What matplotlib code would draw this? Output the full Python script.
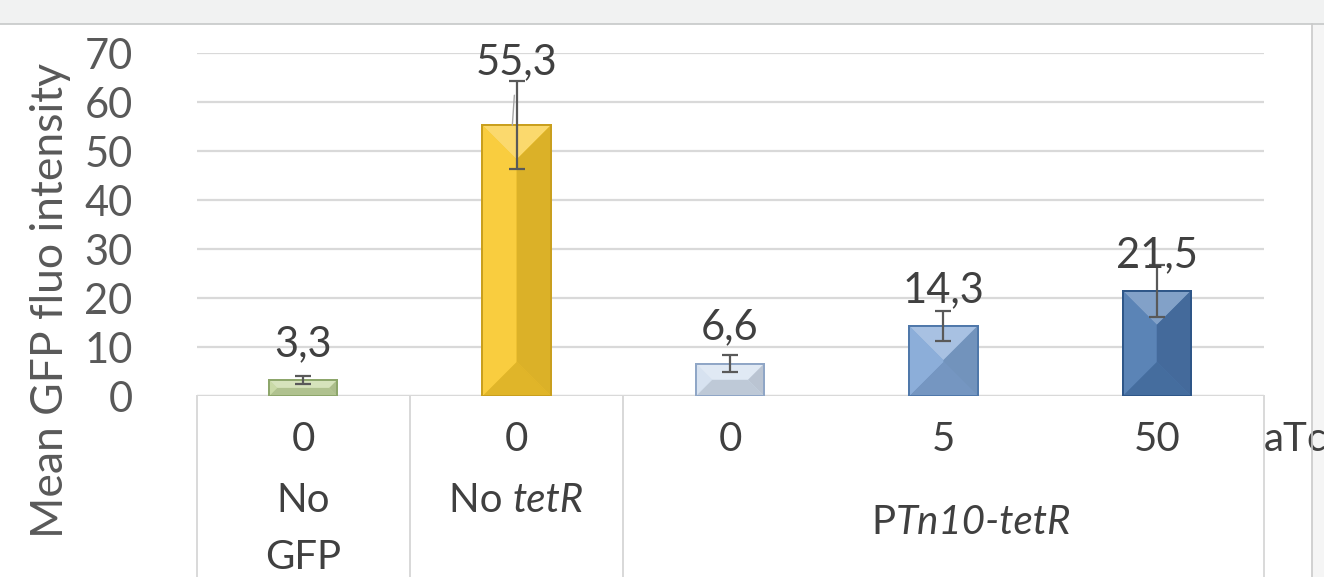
"""
Mean GFP fluo intensity per strain / aTc dose (Excel-style bevelled bars)
"""

import matplotlib

matplotlib.use("Agg")
import matplotlib.pyplot as plt
from matplotlib.patches import Polygon, Rectangle
from matplotlib.colors import to_rgb
import numpy as np

plt.rcParams["font.family"] = ["Lato", "DejaVu Sans"]

# ── Data ───────────────────────────────────────────────
doses = ["0", "0", "0", "5", "50"]
values = [3.3, 55.3, 6.6, 14.3, 21.5]
errors = [0.75, 9.0, 1.75, 3.0, 5.3]
value_labels = ["3,3", "55,3", "6,6", "14,3", "21,5"]
# group labels as (text, italic) pieces
groups = [
    [("No", False)],
    [("No ", False), ("tetR", True)],
    [("P", False), ("Tn10-tetR", True)],
]
group_spans = [(0, 0), (1, 1), (2, 4)]

# ── Theme ──────────────────────────────────────────────
face_colors = ["#C4D79F", "#F9C92E", "#D3DFEF", "#82A7D6", "#4D79B0"]
edge_colors = ["#8DA66B", "#C99F1E", "#8FA6C6", "#4F78AA", "#2E5688"]
TICK_GRAY = "#595959"
LABEL_DARK = "#404040"
GRID = "#D9D9D9"

W, H = 1324, 577
fig = plt.figure(figsize=(W / 100, H / 100), dpi=100)
fig.patch.set_facecolor("white")

# slide chrome: top band and right margin
fig.add_artist(Rectangle((0, 1 - 24 / H), 1, 24 / H, transform=fig.transFigure,
                         facecolor="#F1F2F2", edgecolor="none", zorder=0))
fig.add_artist(plt.Line2D([0, 1], [1 - 24 / H] * 2, transform=fig.transFigure,
                          color="#C6C8C8", lw=1.2))
fig.add_artist(Rectangle((1312 / W, 0), 1, 1 - 24 / H, transform=fig.transFigure,
                         facecolor="#F5F5F5", edgecolor="none", zorder=0))
fig.add_artist(plt.Line2D([1312 / W] * 2, [0, 1 - 24 / H], transform=fig.transFigure,
                          color="#CACACA", lw=1.2))

ax = fig.add_axes([196.5 / W, 1 - 396 / H, (1263.5 - 196.5) / W, (396 - 53.3) / H])
ax.set_facecolor("none")
n = len(values)
x = np.arange(n)
ax.set_xlim(-0.5, n - 0.5)
ax.set_ylim(0, 70)
ax.set_yticks(range(0, 71, 10))
ax.yaxis.grid(True, color=GRID, lw=1.6)
ax.set_axisbelow(True)
for s in ax.spines.values():
    s.set_visible(False)
ax.tick_params(axis="y", length=0, labelsize=30, labelcolor=TICK_GRAY, pad=46)
ax.set_xticks([])

ax.set_ylabel("Mean GFP fluo intensity", fontsize=32, color=TICK_GRAY)
ax.yaxis.set_label_coords(-0.118, 0.28)

# px per data unit for the bevel
px_x = ax.transData.transform((1, 0))[0] - ax.transData.transform((0, 0))[0]
px_y = ax.transData.transform((0, 1))[1] - ax.transData.transform((0, 0))[1]


def shade(c, f):
    r = np.array(to_rgb(c))
    return tuple(np.clip(r + (1 - r) * f, 0, 1)) if f > 0 else tuple(r * (1 + f))


width = 0.32
bars = ax.bar(x, values, width=width, color=face_colors, edgecolor=edge_colors,
              linewidth=1.4, zorder=3)
for b, fc in zip(bars, face_colors):
    x0, y0 = b.get_x(), 0
    x1, y1 = x0 + b.get_width(), b.get_height()
    d_px = min(b.get_width() * px_x, b.get_height() * px_y) / 2
    dx, dy = d_px / px_x, d_px / px_y
    parts = [
        ([(x0, y1), (x1, y1), (x1 - dx, y1 - dy), (x0 + dx, y1 - dy)], 0.30),
        ([(x0, y0), (x1, y0), (x1 - dx, y0 + dy), (x0 + dx, y0 + dy)], -0.10),
        ([(x0, y0), (x0, y1), (x0 + dx, y1 - dy), (x0 + dx, y0 + dy)], 0.08),
        ([(x1, y0), (x1, y1), (x1 - dx, y1 - dy), (x1 - dx, y0 + dy)], -0.12),
    ]
    for pts, f in parts:
        ax.add_patch(Polygon(pts, closed=True, facecolor=shade(fc, f),
                             edgecolor="none", zorder=3.5))
    ax.add_patch(Rectangle((x0, y0), x1 - x0, y1 - y0, facecolor="none",
                           edgecolor=b.get_edgecolor(), lw=1.4, zorder=3.8))

ax.errorbar(x, values, yerr=errors, fmt="none", ecolor="#595959", elinewidth=1.6,
            capsize=6, capthick=1.6, zorder=4)

# value labels
for i, (v, e, t) in enumerate(zip(values, errors, value_labels)):
    if i == 1:
        ax.annotate(t, (x[i] - 0.02, v), xytext=(x[i], v + 10.4), ha="center",
                    va="baseline", fontsize=30, color=LABEL_DARK, zorder=5,
                    arrowprops=dict(arrowstyle="-", color="#A6A6A6", lw=1.0,
                                    shrinkA=8, shrinkB=0))
    else:
        ax.text(x[i], v + 4.9, t, ha="center", va="baseline",
                fontsize=30, color=LABEL_DARK, zorder=5)

# category axis: baseline and divider lines
ax.axhline(0, color=GRID, lw=1.6, zorder=2)
trans = ax.get_xaxis_transform()
for lo, hi in group_spans:
    for xv in (lo - 0.5, hi + 0.5):
        ax.plot([xv, xv], [0, -0.6], transform=trans, color=GRID, lw=1.4, clip_on=False)

for xi, d in zip(x, doses):
    ax.text(xi, -0.128, d, transform=trans, ha="center", va="center", fontsize=29,
            color=LABEL_DARK)
ax.text(n - 0.5, -0.128, "aTc", transform=trans, ha="left", va="center", fontsize=29,
        color=LABEL_DARK, clip_on=False)

# group labels built from upright / italic pieces, centred on a point
renderer = fig.canvas.get_renderer()


def piece_label(xc, yc, pieces):
    texts = [ax.text(0, yc, s, transform=trans, ha="left", va="center", fontsize=29,
                     color=LABEL_DARK, style="italic" if it else "normal")
             for s, it in pieces]
    widths = [t.get_window_extent(renderer).width for t in texts]
    x_px = ax.transData.transform((xc, 0))[0] - sum(widths) / 2
    for t, w in zip(texts, widths):
        t.set_x(ax.transData.inverted().transform((x_px, 0))[0])
        x_px += w


group_x = [0, 1, 3.13]
group_y = [-0.305, -0.305, -0.37]
for gx, gy, g in zip(group_x, group_y, groups):
    piece_label(gx, gy, g)
ax.text(group_x[0], -0.47, "GFP", transform=trans, ha="center", va="center",
        fontsize=29, color=LABEL_DARK)

fig.savefig("out.png", dpi=100, facecolor=fig.get_facecolor())
plt.close()
